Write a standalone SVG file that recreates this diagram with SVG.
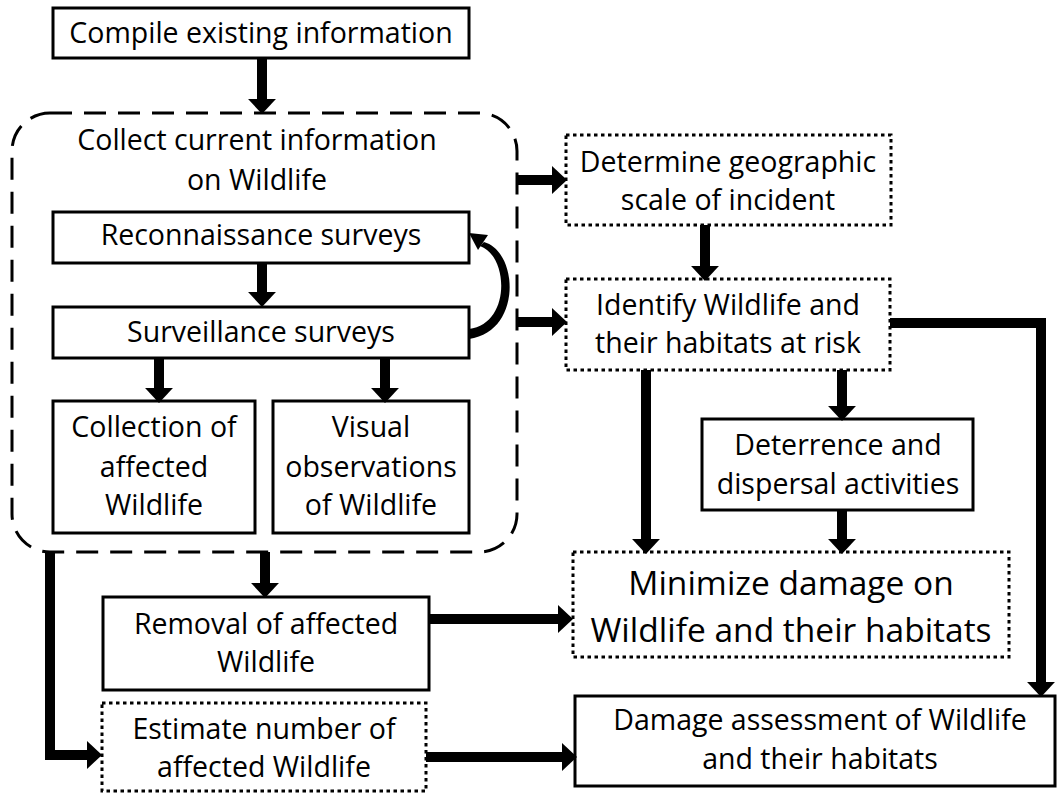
<svg xmlns="http://www.w3.org/2000/svg" width="1057" height="794" viewBox="0 0 1057 794">
<style>
.box{fill:#fff;stroke:#000;stroke-width:3}
.dot{fill:#fff;stroke:#000;stroke-width:3;stroke-dasharray:3.5 3.5}
.dash{fill:none;stroke:#000;stroke-width:3;stroke-dasharray:22 12}
.t{font-family:"Open Sans","Liberation Sans",sans-serif;font-size:28.5px;fill:#000;text-anchor:middle;font-variant-ligatures:none}
.big{font-size:33.5px}
.c{fill:none;stroke:#000;stroke-width:10;stroke-linejoin:miter}
</style>
<defs>
<marker id="ah" markerUnits="userSpaceOnUse" markerWidth="30" markerHeight="30" refX="0" refY="0" viewBox="0 -14 16 28" orient="auto" overflow="visible">
<path d="M0,-13 L14,0 L0,13 z" fill="#000"/>
</marker>
</defs>

<g id="collect-group">
<rect class="dash" x="12" y="113" width="505" height="439" rx="38"/>
<text class="t" x="257" y="150">Collect current information</text>
<text class="t" x="257" y="190">on Wildlife</text>
</g>

<g id="compile"><rect class="box" x="53" y="8" width="416" height="50"/><text class="t" x="261" y="43">Compile existing information</text></g>
<g id="recon"><rect class="box" x="53" y="212" width="416" height="51"/><text class="t" x="261" y="245">Reconnaissance surveys</text></g>
<g id="surveil"><rect class="box" x="53" y="307" width="416" height="51"/><text class="t" x="261" y="342">Surveillance surveys</text></g>
<g id="collection"><rect class="box" x="53" y="401" width="202" height="132"/><text class="t" x="154" y="437">Collection of</text><text class="t" x="154" y="477">affected</text><text class="t" x="154" y="515">Wildlife</text></g>
<g id="visual"><rect class="box" x="273" y="401" width="196" height="132"/><text class="t" x="371" y="437">Visual</text><text class="t" x="371" y="477">observations</text><text class="t" x="371" y="515">of Wildlife</text></g>
<g id="determine"><rect class="dot" x="566" y="135" width="325" height="90"/><text class="t" x="728" y="172">Determine geographic</text><text class="t" x="728" y="210">scale of incident</text></g>
<g id="identify"><rect class="dot" x="566" y="279" width="324" height="91"/><text class="t" x="728" y="315">Identify Wildlife and</text><text class="t" x="728" y="353">their habitats at risk</text></g>
<g id="deterrence"><rect class="box" x="702" y="419" width="271" height="91"/><text class="t" x="838" y="455">Deterrence and</text><text class="t" x="838" y="494">dispersal activities</text></g>
<g id="minimize"><rect class="dot" x="573" y="552" width="436" height="105"/><text class="t big" x="791" y="595">Minimize damage on</text><text class="t big" x="791" y="642">Wildlife and their habitats</text></g>
<g id="removal"><rect class="box" x="103" y="597" width="326" height="93"/><text class="t" x="266" y="634">Removal of affected</text><text class="t" x="266" y="672">Wildlife</text></g>
<g id="estimate"><rect class="dot" x="102" y="703" width="324" height="88"/><text class="t" x="264" y="739">Estimate number of</text><text class="t" x="264" y="777">affected Wildlife</text></g>
<g id="damage"><rect class="box" x="575" y="696" width="480" height="90"/><text class="t" x="820" y="730">Damage assessment of Wildlife</text><text class="t" x="820" y="769">and their habitats</text></g>

<g id="connectors">
<line class="c" x1="262" y1="58" x2="262" y2="99" marker-end="url(#ah)"/>
<line class="c" x1="262" y1="263" x2="262" y2="292" marker-end="url(#ah)"/>
<line class="c" x1="159" y1="358" x2="159" y2="388" marker-end="url(#ah)"/>
<line class="c" x1="385" y1="358" x2="385" y2="388" marker-end="url(#ah)"/>
<path d="M469,339 C522,332 519,252 484,242 L480,246 C509,256 511,324 469,329 Z" fill="#000"/>
<polygon points="469,233 488,235 478,250" fill="#000"/>
<line class="c" x1="517" y1="180" x2="552" y2="180" marker-end="url(#ah)"/>
<line class="c" x1="517" y1="322" x2="552" y2="322" marker-end="url(#ah)"/>
<line class="c" x1="705" y1="225" x2="705" y2="266" marker-end="url(#ah)"/>
<line class="c" x1="842" y1="370" x2="842" y2="406" marker-end="url(#ah)"/>
<line class="c" x1="842" y1="510" x2="842" y2="539" marker-end="url(#ah)"/>
<line class="c" x1="646" y1="370" x2="646" y2="539" stroke-width="13" marker-end="url(#ah)"/>
<polyline class="c" points="890,323 1041,323 1041,682" marker-end="url(#ah)"/>
<line class="c" x1="265" y1="552" x2="265" y2="583" marker-end="url(#ah)"/>
<line class="c" x1="429" y1="619" x2="558" y2="619" marker-end="url(#ah)"/>
<polyline class="c" points="50,552 50,755 87,755" marker-end="url(#ah)"/>
<line class="c" x1="426" y1="757" x2="562" y2="757" marker-end="url(#ah)"/>
</g>
</svg>
